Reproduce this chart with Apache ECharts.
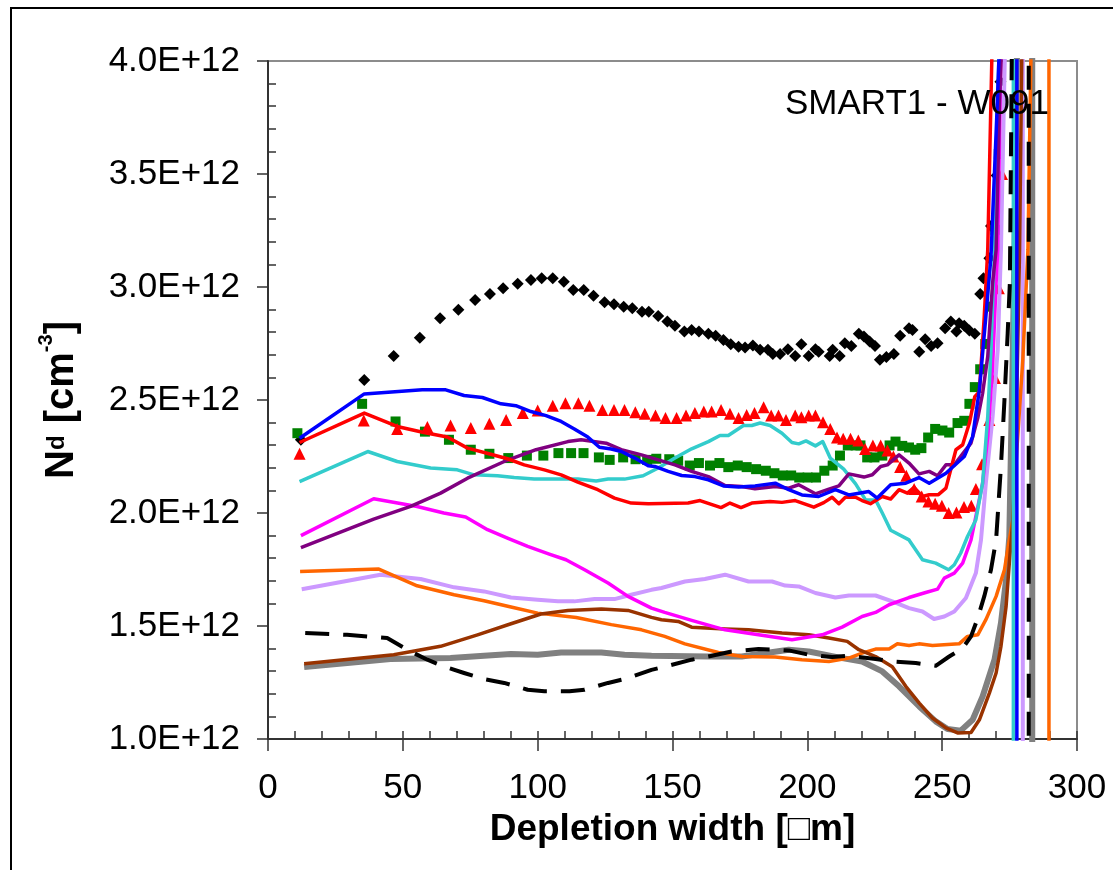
<!DOCTYPE html>
<html>
<head>
<meta charset="utf-8">
<title>SMART1 - W091</title>
<script src="https://cdn.jsdelivr.net/npm/echarts@6/dist/echarts.min.js"></script>
<style>
  html, body { margin: 0; padding: 0; background: #fff; }
  #chart { width: 1113px; height: 870px; }
</style>
</head>
<body>
<div id="chart"></div>
<script>
// depletion width [um] vs Nd [x1E12 cm-3]
const xTicks = [0, 50, 100, 150, 200, 250, 300]
const yMinorTicks = [1.1, 1.2, 1.3, 1.4, 1.6, 1.7, 1.8, 1.9, 2.1, 2.2, 2.3, 2.4, 2.6, 2.7, 2.8, 2.9, 3.1, 3.2, 3.3, 3.4, 3.6, 3.7, 3.8, 3.9]

const diamonds = [
  [12.2, 2.324], [35.7, 2.589], [46.6, 2.695], [56.3, 2.775], [63.8, 2.862], [70.6, 2.899], [76.8, 2.943],
  [82.3, 2.969], [87.2, 2.995], [92.6, 3.014], [97.5, 3.031], [101.5, 3.039], [105.6, 3.039], [109.7, 3.023],
  [113.2, 2.987], [117.1, 2.987], [120.7, 2.961], [124.8, 2.933], [128.3, 2.924], [131.9, 2.913], [135.1, 2.906],
  [138.7, 2.890], [141.2, 2.891], [144.7, 2.872], [148.1, 2.847], [150.9, 2.828], [154.4, 2.803], [157.1, 2.810],
  [159.8, 2.803], [163.3, 2.793], [166.0, 2.784], [168.9, 2.766], [171.6, 2.747], [174.5, 2.736], [176.9, 2.732],
  [179.8, 2.741], [182.5, 2.722], [185.4, 2.722], [187.2, 2.704], [189.9, 2.704], [192.8, 2.725], [195.5, 2.695],
  [197.8, 2.747], [200.5, 2.695], [203.0, 2.725], [204.2, 2.714], [208.3, 2.695], [209.4, 2.722], [212.0, 2.695],
  [213.9, 2.751], [216.3, 2.739], [219.1, 2.793], [221.0, 2.781], [223.1, 2.759], [225.1, 2.739], [226.9, 2.678],
  [229.3, 2.690], [232.1, 2.704], [234.4, 2.784], [237.7, 2.818], [239.0, 2.810], [241.5, 2.714], [243.7, 2.769],
  [245.9, 2.739], [248.3, 2.751], [251.1, 2.818], [253.2, 2.847], [255.3, 2.803], [256.3, 2.840], [258.2, 2.828],
  [260.1, 2.807], [262.1, 2.793], [264.1, 2.969], [265.3, 3.039], [267.5, 3.127], [268.1, 3.270], [270.2, 3.493],
  [271.6, 3.908]
]

const triangles = [
  [11.7, 2.262], [35.5, 2.409], [47.9, 2.372], [59.1, 2.380], [67.7, 2.387], [75.2, 2.376], [82.1, 2.395],
  [88.3, 2.412], [94.5, 2.442], [100.0, 2.453], [105.6, 2.475], [110.3, 2.486], [115.1, 2.486], [119.2, 2.475],
  [124.0, 2.456], [128.3, 2.456], [132.2, 2.456], [136.2, 2.446], [139.7, 2.439], [143.7, 2.431], [147.4, 2.420],
  [151.5, 2.420], [155.0, 2.431], [158.3, 2.442], [161.6, 2.449], [164.5, 2.449], [168.0, 2.456], [171.3, 2.439],
  [174.5, 2.420], [177.5, 2.434], [180.4, 2.442], [183.8, 2.468], [186.6, 2.431], [189.3, 2.431], [192.1, 2.412],
  [195.5, 2.431], [197.8, 2.424], [200.5, 2.431], [203.0, 2.431], [205.8, 2.402], [208.5, 2.372], [211.0, 2.334],
  [213.3, 2.328], [216.0, 2.328], [218.9, 2.321], [221.4, 2.283], [224.3, 2.299], [227.2, 2.299], [229.7, 2.276],
  [231.9, 2.250], [234.4, 2.203], [236.7, 2.165], [239.6, 2.106], [242.4, 2.073], [244.9, 2.051], [247.4, 2.041],
  [249.9, 2.032], [252.4, 2.000], [255.3, 2.002], [258.1, 2.026], [260.8, 2.032], [262.5, 2.106], [264.8, 2.216],
  [267.5, 2.412], [269.6, 2.597], [271.0, 2.995], [272.2, 3.500]
]

const squares = [
  [10.9, 2.353], [34.9, 2.483], [47.3, 2.405], [58.2, 2.360], [67.1, 2.324], [75.2, 2.280], [82.1, 2.262],
  [89.1, 2.243], [96.0, 2.254], [102.1, 2.254], [107.7, 2.265], [112.4, 2.265], [117.0, 2.265], [122.7, 2.246],
  [126.7, 2.235], [131.7, 2.246], [136.3, 2.238], [140.6, 2.235], [144.0, 2.240], [148.8, 2.238], [152.1, 2.231],
  [156.4, 2.210], [159.8, 2.221], [163.9, 2.210], [167.4, 2.221], [170.7, 2.203], [174.2, 2.210], [177.5, 2.203],
  [181.0, 2.194], [184.6, 2.187], [187.8, 2.176], [190.9, 2.166], [194.0, 2.166], [197.0, 2.157], [200.1, 2.157],
  [203.2, 2.157], [206.3, 2.187], [209.4, 2.210], [212.1, 2.254], [215.0, 2.299], [217.9, 2.299], [219.7, 2.299],
  [222.2, 2.246], [224.9, 2.246], [227.8, 2.254], [230.5, 2.299], [232.7, 2.316], [235.2, 2.297], [237.7, 2.290],
  [240.0, 2.280], [242.3, 2.287], [244.8, 2.334], [247.4, 2.372], [250.1, 2.365], [252.6, 2.356], [255.7, 2.398],
  [258.2, 2.408], [260.1, 2.483], [262.1, 2.557], [264.1, 2.636], [266.0, 2.748], [267.5, 2.913], [269.7, 3.253],
  [271.0, 3.589]
]

const blueLine = [
  [11.7, 2.331], [35.7, 2.527], [57.2, 2.545], [65.9, 2.545], [72.7, 2.520], [79.5, 2.511], [86.4, 2.483],
  [91.9, 2.475], [97.5, 2.449], [103.1, 2.431], [108.7, 2.405], [113.6, 2.372], [118.6, 2.336], [122.9, 2.291],
  [127.3, 2.283], [131.0, 2.272], [136.0, 2.243], [141.0, 2.209], [143.4, 2.206], [148.4, 2.184], [153.4, 2.166],
  [158.3, 2.161], [163.3, 2.147], [168.9, 2.120], [174.5, 2.115], [180.6, 2.120], [188.1, 2.132], [193.1, 2.103],
  [198.0, 2.080], [204.2, 2.073], [210.4, 2.103], [215.4, 2.080], [222.8, 2.095], [225.9, 2.066], [230.9, 2.125],
  [236.5, 2.132], [241.4, 2.157], [245.2, 2.132], [251.4, 2.176], [258.2, 2.250], [261.3, 2.338], [263.8, 2.545],
  [266.2, 2.869], [268.1, 3.134], [270.2, 3.74], [271.3, 4.09], [277.7, 10], [277.7, -10]
]

const redLine = [
  [11.7, 2.312], [35.7, 2.442], [47.9, 2.383], [57.8, 2.356], [66.5, 2.336], [74.0, 2.287], [82.6, 2.260],
  [88.8, 2.240], [95.0, 2.213], [102.5, 2.191], [108.7, 2.169], [114.9, 2.137], [122.3, 2.103], [128.5, 2.066],
  [134.7, 2.044], [141.0, 2.041], [155.8, 2.044], [160.2, 2.055], [168.0, 2.024], [171.3, 2.044], [175.4, 2.024],
  [179.4, 2.044], [186.2, 2.051], [190.6, 2.047], [195.5, 2.055], [202.4, 2.026], [206.1, 2.046], [209.2, 2.070],
  [211.7, 2.041], [214.1, 2.070], [217.9, 2.070], [220.3, 2.055], [223.4, 2.041], [227.8, 2.073], [230.9, 2.062],
  [234.0, 2.103], [237.1, 2.088], [239.6, 2.113], [242.7, 2.073], [245.2, 2.081], [248.6, 2.081], [251.4, 2.110],
  [255.1, 2.280], [257.6, 2.302], [260.1, 2.398], [262.1, 2.515], [263.8, 2.537], [265.6, 2.869], [266.9, 3.164],
  [268.4, 4.0], [269.1, 4.27]
]

const cyanLine = [
  [11.7, 2.139], [37.0, 2.272], [47.9, 2.228], [60.3, 2.199], [70.2, 2.191], [76.4, 2.169], [85.1, 2.165],
  [91.3, 2.157], [98.7, 2.150], [107.5, 2.150], [114.9, 2.150], [121.7, 2.142], [126.1, 2.150], [132.2, 2.150],
  [139.1, 2.165], [144.7, 2.199], [150.9, 2.243], [157.1, 2.284], [163.3, 2.316], [167.6, 2.343], [170.7, 2.343],
  [176.3, 2.387], [179.4, 2.387], [182.5, 2.398], [186.2, 2.387], [190.6, 2.353], [194.3, 2.312], [196.8, 2.306],
  [199.5, 2.319], [203.0, 2.297], [205.7, 2.316], [208.5, 2.243], [213.5, 2.194], [217.9, 2.129], [221.6, 2.058],
  [225.3, 2.058], [227.8, 2.000], [230.9, 1.924], [237.7, 1.881], [242.7, 1.793], [247.6, 1.778], [252.4, 1.749],
  [254.5, 1.771], [256.9, 1.823], [259.4, 1.896], [262.5, 1.970], [265.0, 2.132], [266.9, 2.427], [268.1, 2.722],
  [269.4, 3.164], [271.0, 4.0], [271.7, 4.27], [276.4, 10], [276.4, -10]
]

const purpleLine = [
  [12.2, 1.847], [39.2, 1.973], [52.9, 2.029], [64.0, 2.088], [74.0, 2.154], [87.6, 2.228], [99.4, 2.280],
  [111.2, 2.316], [116.1, 2.324], [125.4, 2.309], [131.0, 2.280], [138.5, 2.257], [144.7, 2.235], [150.9, 2.213],
  [157.1, 2.184], [163.3, 2.161], [169.5, 2.122], [175.7, 2.117], [180.6, 2.107], [188.1, 2.117], [193.1, 2.110],
  [196.8, 2.125], [203.0, 2.085], [208.0, 2.106], [211.7, 2.120], [215.4, 2.173], [221.0, 2.159], [224.1, 2.169],
  [227.2, 2.206], [229.7, 2.213], [234.0, 2.257], [237.7, 2.221], [241.4, 2.173], [245.2, 2.184], [248.3, 2.165],
  [251.4, 2.213], [254.5, 2.213], [257.6, 2.262], [260.7, 2.309], [263.2, 2.420], [265.0, 2.530], [266.9, 2.692],
  [268.7, 3.017], [270.0, 3.164], [271.3, 3.828], [272.1, 4.09]
]

const magentaLine = [
  [12.2, 1.900], [39.2, 2.063], [55.3, 2.029], [65.2, 2.000], [73.3, 1.982], [81.4, 1.926], [88.8, 1.889],
  [96.3, 1.852], [104.3, 1.818], [110.5, 1.793], [117.4, 1.749], [126.1, 1.690], [133.5, 1.631], [142.2, 1.579],
  [147.1, 1.560], [157.1, 1.525], [169.5, 1.483], [181.9, 1.461], [194.3, 1.439], [205.5, 1.461], [212.9, 1.495],
  [220.3, 1.542], [225.3, 1.560], [230.3, 1.594], [237.7, 1.626], [243.9, 1.648], [248.3, 1.663], [250.8, 1.712],
  [254.5, 1.734], [257.6, 1.778], [260.7, 1.881], [262.5, 1.985], [265.0, 2.132], [266.9, 2.338], [268.7, 2.648],
  [270.0, 3.017], [270.6, 3.164], [271.7, 4.0], [272.5, 4.27]
]

const orangeLine = [
  [11.9, 1.741], [41.1, 1.752], [55.3, 1.678], [69.0, 1.638], [80.1, 1.612], [90.1, 1.584], [100.0, 1.557],
  [114.3, 1.538], [127.3, 1.506], [138.5, 1.483], [147.1, 1.454], [154.6, 1.421], [167.0, 1.383], [175.7, 1.365],
  [188.1, 1.363], [198.0, 1.351], [208.0, 1.343], [215.4, 1.358], [220.3, 1.380], [225.3, 1.398], [230.3, 1.398],
  [233.4, 1.421], [237.7, 1.414], [241.4, 1.421], [246.4, 1.414], [256.3, 1.421], [259.4, 1.454], [263.2, 1.461],
  [266.2, 1.528], [270.0, 1.631], [273.1, 1.749], [274.9, 1.881], [276.2, 1.970], [277.7, 2.280], [279.9, 2.678],
  [281.8, 3.164], [282.9, 4.0], [283.3, 4.27], [289.6, 10], [289.6, -10]
]

const lavenderLine = [
  [12.5, 1.663], [41.7, 1.727], [56.6, 1.708], [69.0, 1.671], [80.1, 1.653], [90.1, 1.626], [100.0, 1.616],
  [107.5, 1.609], [113.6, 1.609], [121.1, 1.619], [128.5, 1.619], [134.7, 1.638], [142.2, 1.660], [145.9, 1.668],
  [154.6, 1.697], [162.0, 1.708], [169.5, 1.727], [178.2, 1.697], [186.9, 1.697], [191.8, 1.679], [196.8, 1.675],
  [203.0, 1.646], [210.4, 1.626], [215.4, 1.635], [225.3, 1.635], [231.5, 1.609], [237.7, 1.579], [242.7, 1.564],
  [247.0, 1.531], [250.8, 1.542], [254.5, 1.564], [258.8, 1.624], [262.5, 1.734], [264.4, 1.881], [266.2, 2.132],
  [268.7, 2.427], [270.6, 2.722], [271.8, 3.164], [273.2, 4.0], [273.6, 4.27], [279.9, 10], [279.9, -10]
]

const brownLine = [
  [13.4, 1.333], [46.6, 1.373], [64.0, 1.410], [77.7, 1.461], [90.1, 1.510], [101.2, 1.553], [111.2, 1.569],
  [123.6, 1.575], [133.5, 1.569], [142.2, 1.538], [145.9, 1.528], [152.1, 1.520], [157.1, 1.495], [169.5, 1.487],
  [178.2, 1.483], [190.6, 1.469], [200.5, 1.461], [208.0, 1.447], [214.8, 1.432], [219.1, 1.395], [225.3, 1.365],
  [231.5, 1.320], [236.5, 1.233], [241.5, 1.159], [246.4, 1.093], [251.4, 1.049], [255.7, 1.027], [260.7, 1.029],
  [263.8, 1.085], [267.5, 1.203], [270.0, 1.292], [271.8, 1.410], [273.7, 1.586], [274.9, 1.778], [276.2, 1.970],
  [277.2, 2.280], [278.0, 2.722], [278.7, 3.164], [279.5, 4.0], [279.9, 4.27]
]

const grayLine = [
  [13.4, 1.318], [45.4, 1.354], [67.7, 1.358], [80.1, 1.368], [90.1, 1.376], [100.0, 1.373], [108.7, 1.383],
  [123.6, 1.383], [132.2, 1.373], [142.2, 1.368], [163.3, 1.365], [175.7, 1.365], [193.1, 1.395], [200.5, 1.387],
  [212.9, 1.358], [220.3, 1.343], [227.8, 1.299], [234.0, 1.233], [241.5, 1.144], [247.6, 1.078], [252.0, 1.044],
  [256.9, 1.037], [261.3, 1.085], [265.0, 1.188], [269.4, 1.351], [271.8, 1.513], [273.7, 1.705], [274.9, 1.896],
  [275.5, 2.280], [276.2, 2.722], [276.8, 3.164], [277.7, 4.0], [278.0, 4.27], [283.4, 10], [283.4, -10]
]

const dashedLine = [
  [13.8, 1.469], [29.3, 1.461], [44.2, 1.447], [52.9, 1.387], [59.1, 1.351], [65.2, 1.321], [72.7, 1.292],
  [80.1, 1.265], [87.6, 1.248], [96.3, 1.218], [102.5, 1.211], [111.8, 1.211], [117.4, 1.218], [126.1, 1.248],
  [132.2, 1.265], [142.2, 1.306], [148.4, 1.324], [157.1, 1.351], [163.3, 1.365], [171.9, 1.387], [181.9, 1.398],
  [193.1, 1.392], [200.5, 1.373], [209.2, 1.363], [215.4, 1.368], [225.3, 1.354], [231.5, 1.343], [240.2, 1.336],
  [247.6, 1.324], [252.6, 1.365], [257.6, 1.402], [260.7, 1.454], [263.2, 1.535], [265.6, 1.631], [268.1, 1.749],
  [270.0, 1.881], [271.8, 2.206], [273.1, 2.501], [274.3, 2.796], [275.1, 3.017], [275.8, 4.0], [276.2, 4.27],
  [282.1, 10], [282.1, -10]
]

const font = "'Liberation Sans', Arial, sans-serif"

const lineSeries = (data, color, width, dash) => ({
  type: 'line',
  data: data,
  symbol: 'none',
  clip: true,
  silent: true,
  lineStyle: { color: color, width: width, type: dash || 'solid', cap: 'butt', join: 'round', opacity: 1 }
})

const markSeries = (data, symbol, size, color) => ({
  type: 'scatter',
  data: data,
  symbol: symbol,
  symbolSize: size,
  clip: true,
  silent: true,
  itemStyle: { color: color, opacity: 1 }
})

const chart = echarts.init(document.getElementById('chart'), null, { renderer: 'canvas' })

chart.setOption({
  animation: false,
  backgroundColor: '#ffffff',
  title: {
    text: 'SMART1 - W091',
    left: 780,
    top: 82,
    textStyle: { fontFamily: font, fontSize: 35, fontWeight: 'normal', color: '#000' }
  },
  grid: {
    left: 268, right: 36, top: 61, bottom: 131,
    show: true, borderColor: '#8c8c8c', borderWidth: 2
  },
  xAxis: [
    {
      type: 'value', min: 0, max: 300, interval: 50,
      name: 'Depletion width [\u25A1m]',
      nameLocation: 'middle',
      nameGap: 63,
      nameTextStyle: { fontFamily: font, fontSize: 37, fontWeight: 'bold', color: '#000' },
      axisLine: { show: true, onZero: false, lineStyle: { color: '#333', width: 2 } },
      axisTick: { show: true, inside: false, length: 12, lineStyle: { color: '#333', width: 1.5 } },
      axisLabel: {
        margin: 32, fontFamily: font, fontSize: 35, color: '#000',
        customValues: xTicks
      },
      splitLine: { show: false }
    },
    {
      type: 'value', min: 0, max: 300, interval: 10, position: 'bottom',
      axisLine: { show: false },
      axisTick: { show: true, inside: true, length: 8, lineStyle: { color: '#333', width: 1.5 } },
      axisLabel: { show: false },
      splitLine: { show: false }
    }
  ],
  yAxis: [
    {
      type: 'value', min: 1, max: 4, interval: 0.5,
      axisLine: { show: true, onZero: false, lineStyle: { color: '#333', width: 2 } },
      axisTick: { show: true, inside: false, length: 11, lineStyle: { color: '#333', width: 1.5 } },
      axisLabel: {
        margin: 28, fontFamily: font, fontSize: 35, color: '#000',
        formatter: v => v.toFixed(1) + 'E+12'
      },
      splitLine: { show: false }
    },
    {
      type: 'value', min: 1, max: 4, position: 'left',
      axisLine: { show: false },
      axisTick: { show: true, inside: true, length: 8, customValues: yMinorTicks, lineStyle: { color: '#333', width: 1.5 } },
      axisLabel: { show: false },
      splitLine: { show: false }
    }
  ],
  graphic: [
    {
      type: 'rect', silent: true, z: 100,
      shape: { x: 11, y: 8, width: 1200, height: 1000 },
      style: { fill: 'none', stroke: '#000', lineWidth: 2 }
    },
    {
      type: 'text', silent: true,
      x: 58, y: 400, rotation: Math.PI / 2,
      style: {
        text: '{a|N}{s|d}{a| [cm}{p|-3}{a|]}',
        align: 'center', verticalAlign: 'middle',
        rich: {
          a: { fontFamily: font, fontSize: 40, fontWeight: 'bold', color: '#000', lineHeight: 48, verticalAlign: 'bottom' },
          s: { fontFamily: font, fontSize: 24, fontWeight: 'bold', color: '#000', lineHeight: 24, padding: [11, 1, 0, 0], verticalAlign: 'top' },
          p: { fontFamily: font, fontSize: 20, fontWeight: 'bold', color: '#000', lineHeight: 20, padding: [2, 0, 32, 0], verticalAlign: 'top' }
        }
      }
    }
  ],
  series: [
    lineSeries(grayLine, '#808080', 6),
    lineSeries(lavenderLine, '#CC99FF', 4),
    lineSeries(orangeLine, '#FF6600', 3.5),
    lineSeries(brownLine, '#993300', 3.5),
    lineSeries(magentaLine, '#FF00FF', 3.5),
    lineSeries(cyanLine, '#33CCCC', 3.5),
    lineSeries(purpleLine, '#800080', 3.5),
    lineSeries(redLine, '#FF0000', 3.5),
    lineSeries(blueLine, '#0000FF', 3.5),
    lineSeries(dashedLine, '#000000', 4, [24, 14]),
    markSeries(diamonds, 'diamond', 12, '#000000'),
    markSeries(squares, 'rect', 10, '#008000'),
    markSeries(triangles, 'triangle', 12, '#FF0000')
  ]
})
</script>
</body>
</html>
